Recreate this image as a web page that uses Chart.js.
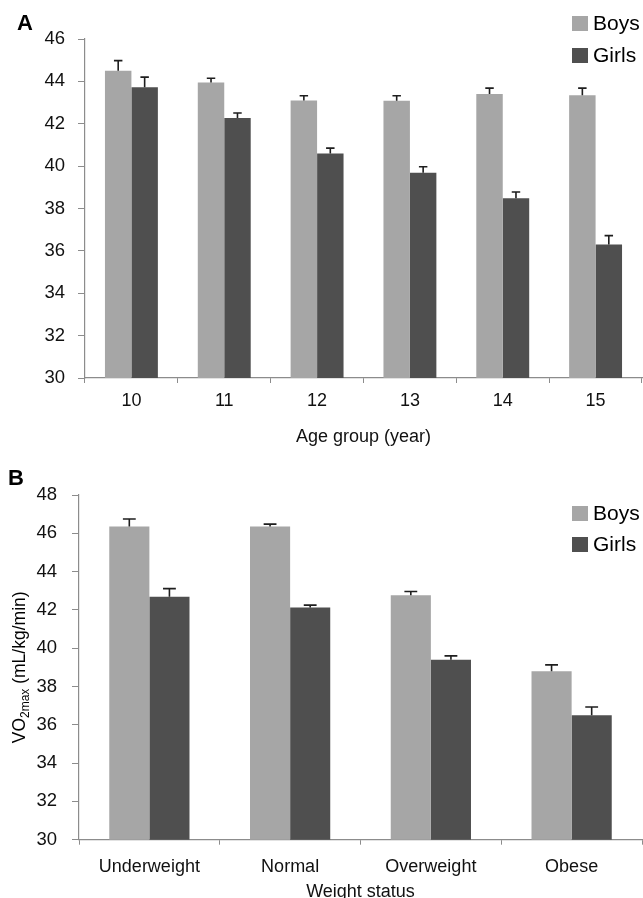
<!DOCTYPE html>
<html>
<head>
<meta charset="utf-8">
<script src="https://cdn.jsdelivr.net/npm/chart.js@4.4.0/dist/chart.umd.min.js"></script>
<style>
  html, body { margin: 0; padding: 0; background: #fff; overflow: hidden; width: 643px; height: 898px; }
  canvas { position: absolute; left: 0; }
  #chartA { top: 0; }
  #chartB { top: 449px; }
</style>
</head>
<body>
<canvas id="chartA" width="643" height="449"></canvas>
<canvas id="chartB" width="643" height="454"></canvas>
<script>
// panel A: by age group
const ageGroups = ['10', '11', '12', '13', '14', '15'];
const boysByAge = [44.5, 43.95, 43.1, 43.08, 43.4, 43.35];
const boysByAgeErr = [0.48, 0.2, 0.22, 0.24, 0.28, 0.33];
const girlsByAge = [43.72, 42.27, 40.6, 39.69, 38.48, 36.3];
const girlsByAgeErr = [0.48, 0.24, 0.25, 0.28, 0.3, 0.42];

// panel B: by weight status
const weightStatus = ['Underweight', 'Normal', 'Overweight', 'Obese'];
const boysByWeight = [46.35, 46.35, 42.77, 38.8];
const boysByWeightErr = [0.4, 0.13, 0.19, 0.33];
const girlsByWeight = [42.69, 42.12, 39.4, 36.5];
const girlsByWeightErr = [0.42, 0.13, 0.2, 0.43];

const seriesNames = ['Boys', 'Girls'];
const boysColor = '#a6a6a6';
const girlsColor = '#4f4f4f';
const axisColor = '#8c8c8c';
const FONT = "'Liberation Sans', Arial, sans-serif";

// error bars (only upward, like the original)
const errorBars = {
  id: 'errorBars',
  afterDatasetsDraw(chart) {
    const ctx = chart.ctx;
    const y = chart.scales.y;
    ctx.save();
    ctx.strokeStyle = '#1e1e1e';
    ctx.lineWidth = 1.6;
    chart.data.datasets.forEach((ds, i) => {
      const meta = chart.getDatasetMeta(i);
      meta.data.forEach((bar, j) => {
        const top = y.getPixelForValue(ds.data[j] + ds.errors[j]);
        const half = bar.width * 0.16;
        ctx.beginPath();
        ctx.moveTo(bar.x, bar.y);
        ctx.lineTo(bar.x, top);
        ctx.moveTo(bar.x - half, top);
        ctx.lineTo(bar.x + half, top);
        ctx.stroke();
      });
    });
    ctx.restore();
  }
};

// legend, panel letter and y title drawn by hand
const decorations = {
  id: 'decorations',
  afterDraw(chart, args, opts) {
    const ctx = chart.ctx;
    ctx.save();
    ctx.fillStyle = '#000';
    ctx.font = 'bold 22px ' + FONT;
    ctx.textBaseline = 'alphabetic';
    ctx.fillText(opts.letter, opts.letterX, opts.letterY);

    ctx.font = '21px ' + FONT;
    ctx.textBaseline = 'middle';
    chart.data.datasets.forEach((ds, i) => {
      const y0 = opts.legendY[i];
      ctx.fillStyle = ds.backgroundColor;
      ctx.fillRect(572, y0, 16, 15);
      ctx.fillStyle = '#000';
      ctx.fillText(ds.label, 593, y0 + 8);
    });

    if (opts.yTitle) {
      const area = chart.chartArea;
      ctx.translate(25, (area.top + area.bottom) / 2);
      ctx.rotate(-Math.PI / 2);
      ctx.textBaseline = 'alphabetic';
      const big = '17.5px ' + FONT;
      const small = '12px ' + FONT;
      ctx.font = big;
      const w1 = ctx.measureText('VO').width;
      const w3 = ctx.measureText(' (mL/kg/min)').width;
      ctx.font = small;
      const w2 = ctx.measureText('2max').width;
      let x = -(w1 + w2 + w3) / 2;
      ctx.fillStyle = '#000';
      ctx.font = big;
      ctx.fillText('VO', x, 0);
      x += w1;
      ctx.font = small;
      ctx.fillText('2max', x, 4);
      x += w2;
      ctx.font = big;
      ctx.fillText(' (mL/kg/min)', x, 0);
    }
    ctx.restore();
  }
};

function makeChart(id, labels, boys, boysErr, girls, girlsErr, cfg) {
  return new Chart(document.getElementById(id), {
    type: 'bar',
    data: {
      labels: labels,
      datasets: [
        { label: seriesNames[0], data: boys, errors: boysErr, backgroundColor: boysColor,
          borderWidth: 0, categoryPercentage: 0.57, barPercentage: 1.0 },
        { label: seriesNames[1], data: girls, errors: girlsErr, backgroundColor: girlsColor,
          borderWidth: 0, categoryPercentage: 0.57, barPercentage: 1.0 }
      ]
    },
    options: {
      responsive: false,
      animation: false,
      devicePixelRatio: 1,
      layout: { padding: cfg.padding },
      plugins: {
        legend: { display: false },
        tooltip: { enabled: false },
        decorations: cfg.deco
      },
      scales: {
        x: {
          grid: { drawOnChartArea: false, tickLength: 5, color: axisColor, offset: true },
          border: { color: axisColor, width: 1.2 },
          ticks: { color: '#111', font: { family: FONT, size: 18 }, padding: cfg.xPad, maxRotation: 0 },
          title: { display: true, text: cfg.xTitle, color: '#111', font: { family: FONT, size: 18 }, padding: 0 },
          afterFit: (s) => { s.height = cfg.xHeight; }
        },
        y: {
          min: cfg.yMin, max: cfg.yMax,
          ticks: { stepSize: 2, color: '#111', font: { family: FONT, size: 18.5 }, padding: cfg.yPad },
          grid: { drawOnChartArea: false, tickLength: 7, color: axisColor },
          border: { color: axisColor, width: 1.2 },
          afterFit: (s) => { s.width = cfg.yWidth; }
        }
      }
    },
    plugins: [errorBars, decorations]
  });
}

makeChart('chartA', ageGroups, boysByAge, boysByAgeErr, girlsByAge, girlsByAgeErr, {
  padding: { top: 39, right: 1, bottom: 1.2, left: 0 },
  xHeight: 69.8, yWidth: 85, xPad: 7, yPad: 13, yMin: 30, yMax: 46,
  xTitle: 'Age group (year)',
  deco: { letter: 'A', letterX: 17, letterY: 30, legendY: [16, 48] }
});

makeChart('chartB', weightStatus, boysByWeight, boysByWeightErr, girlsByWeight, girlsByWeightErr, {
  padding: { top: 46, right: 1, bottom: 0.2, left: 0 },
  xHeight: 63.1, yWidth: 79, xPad: 12, yPad: 15, yMin: 30, yMax: 48,
  xTitle: 'Weight status',
  deco: { letter: 'B', letterX: 8, letterY: 36, legendY: [57, 88], yTitle: true }
});
</script>
</body>
</html>
